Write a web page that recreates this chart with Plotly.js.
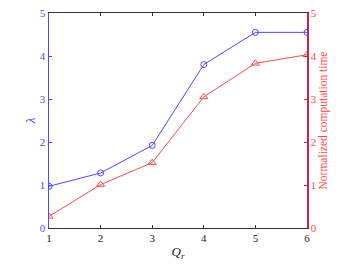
<!DOCTYPE html>
<html><head><meta charset="utf-8">
<script src="https://cdn.plot.ly/plotly-3.0.1.min.js"></script>
<style>html,body{margin:0;padding:0;background:#fff}</style>
</head><body><div id="chart" style="width:357px;height:268px"></div>
<script>
const qr = [1, 2, 3, 4, 5, 6];
const lambda = [0.97, 1.28, 1.92, 3.8, 4.55, 4.55];
const compTime = [0.27, 1.01, 1.52, 3.05, 3.83, 4.03];
const xTicks = [1, 2, 3, 4, 5, 6];
const yTicks = [0, 1, 2, 3, 4, 5];

const blue = '#4a4aff', red = '#ff4a4a';
const font = {family: 'Liberation Serif, Times New Roman, serif', size: 11};
const traces = [
  {x: qr, y: lambda, type: 'scatter', mode: 'lines+markers', yaxis: 'y',
   line: {color: blue, width: 1}, marker: {symbol: 'circle-open', size: 6, color: blue, line: {width: 1}}},
  {x: qr, y: compTime, type: 'scatter', mode: 'lines+markers', yaxis: 'y2',
   line: {color: red, width: 1}, marker: {symbol: 'triangle-up-open', size: 7, color: red, line: {width: 1}}}
];
const layout = {
  width: 357, height: 268, showlegend: false,
  margin: {l: 49, r: 50, t: 13, b: 40},
  paper_bgcolor: '#fff', plot_bgcolor: '#fff', font: font,
  xaxis: {range: [1, 6], tickvals: xTicks, ticks: 'inside', ticklen: 3, tickcolor: '#333',
    showline: true, linecolor: '#333', linewidth: 1, mirror: 'ticks', showgrid: false, zeroline: false,
    tickfont: {family: font.family, size: 11, color: '#222'},
    title: {text: '<i>Q</i><sub><i>r</i></sub>', font: {family: font.family, size: 13, color: '#222'}, standoff: 3}},
  yaxis: {range: [0, 5], tickvals: yTicks, ticks: 'inside', ticklen: 3, tickcolor: blue,
    showline: true, linecolor: blue, linewidth: 1.5, showgrid: false, zeroline: false,
    tickfont: {family: font.family, size: 11, color: blue},
    title: {text: '<i>λ</i>', font: {family: font.family, size: 13, color: blue}, standoff: 1}},
  yaxis2: {range: [0, 5], tickvals: yTicks, ticks: 'inside', ticklen: 3, tickcolor: '#d0204a',
    overlaying: 'y', side: 'right', anchor: 'x',
    showline: true, linecolor: '#d0204a', linewidth: 1.5, showgrid: false, zeroline: false,
    tickfont: {family: font.family, size: 11, color: red},
    title: {text: 'Normalized computation time', font: {family: font.family, size: 11.5, color: red}, standoff: 3}}
};
Plotly.newPlot('chart', traces, layout, {displayModeBar: false, staticPlot: true});
</script></body></html>
